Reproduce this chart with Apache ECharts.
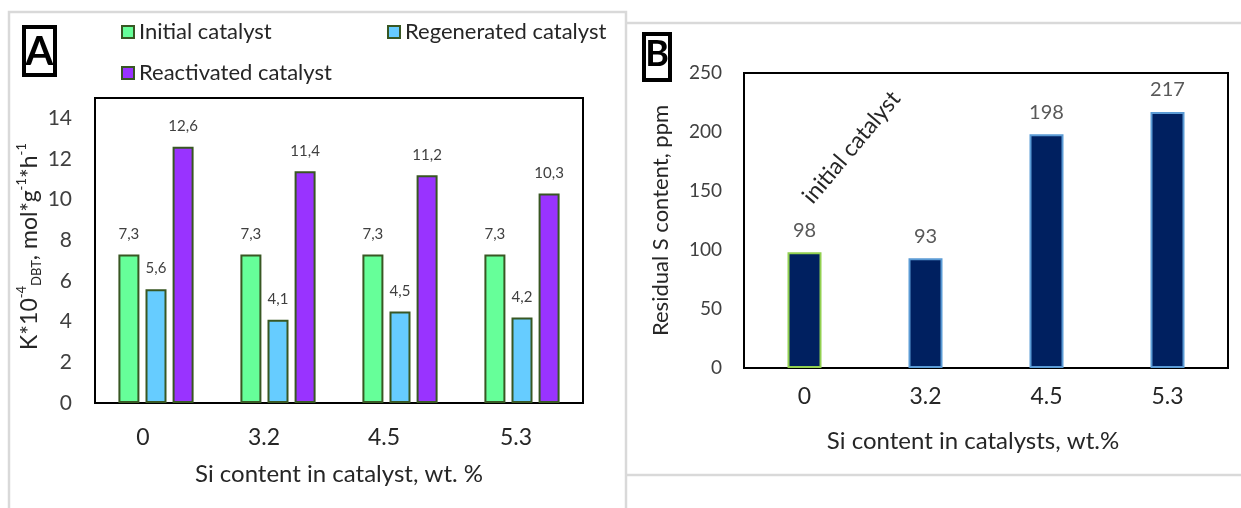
<!DOCTYPE html>
<html><head><meta charset="utf-8">
<script src="https://cdn.jsdelivr.net/npm/echarts@6/dist/echarts.min.js"></script>
<style>html,body{margin:0;padding:0;background:#fff}#c{width:1241px;height:508px}</style>
</head><body><div id="c"></div>
<script>
const categoriesA = ['0', '3.2', '4.5', '5.3'];
const initialCatalyst = [7.3, 7.3, 7.3, 7.3];
const regeneratedCatalyst = [5.6, 4.1, 4.5, 4.2];
const reactivatedCatalyst = [12.6, 11.4, 11.2, 10.3];
const yTicksA = [0, 2, 4, 6, 8, 10, 12, 14];
const categoriesB = ['0', '3.2', '4.5', '5.3'];
const residualS = [98, 93, 198, 217];
const yTicksB = [0, 50, 100, 150, 200, 250];

const FF = 'Lato';
const labelShiftA = [-13, -14, -16, -6];
const richShift = {};
labelShiftA.forEach((s, i) => { richShift['s' + i] = { fontSize: 23, fontFamily: FF, color: '#262626', padding: [0, -2 * s, 0, 0] }; });

const comma = p => String(p.value).replace('.', ',');
const barBorder = '#385723';
function barA(name, data, color) {
  return {
    type: 'bar', name, data, xAxisIndex: 0, yAxisIndex: 0,
    barWidth: 21, barGap: '29%',
    itemStyle: { color, borderColor: barBorder, borderWidth: 2 },
    label: { show: true, position: 'top', distance: 13, formatter: comma, color: '#404040', fontSize: 15, fontFamily: FF }
  };
}
const legendCommon = { icon: 'rect', itemWidth: 12, itemHeight: 12, padding: 0, textStyle: { fontSize: 22, color: '#262626', fontFamily: FF } };
const frame = { stroke: '#d9d9d9', lineWidth: 2.5, fill: null };
const rot = 50 * Math.PI / 180;
const annShift = 47;

const option = {
  animation: false,
  backgroundColor: '#fff',
  textStyle: { fontFamily: FF },
  grid: [
    { left: 95, top: 98, width: 488, height: 305, show: true, borderColor: '#000', borderWidth: 2 },
    { left: 744, top: 73, width: 484, height: 295, show: true, borderColor: '#000', borderWidth: 2 }
  ],
  legend: [
    Object.assign({ data: ['Initial catalyst'], left: 121, top: 21 }, legendCommon),
    Object.assign({ data: ['Regenerated catalyst'], left: 387, top: 21 }, legendCommon),
    Object.assign({ data: ['Reactivated catalyst'], left: 121, top: 62 }, legendCommon)
  ],
  xAxis: [
    {
      gridIndex: 0, type: 'category', data: categoriesA,
      axisLine: { show: false }, axisTick: { show: false }, splitLine: { show: false },
      axisLabel: { margin: 23, formatter: (v, i) => '{s' + i + '|' + v + '}', rich: richShift },
      name: 'Si content in catalyst, wt. %', nameLocation: 'middle', nameGap: 59,
      nameTextStyle: { fontSize: 24, color: '#262626', fontFamily: FF }
    },
    {
      gridIndex: 1, type: 'category', data: categoriesB,
      axisLine: { show: false }, axisTick: { show: false }, splitLine: { show: false },
      axisLabel: { margin: 17, fontSize: 23, color: '#262626', fontFamily: FF },
      name: 'Si content in catalysts, wt.%', nameLocation: 'middle', nameGap: 61,
      nameTextStyle: { fontSize: 24, color: '#262626', fontFamily: FF, padding: [0, 26, 0, 0] }
    }
  ],
  yAxis: [
    {
      gridIndex: 0, type: 'value', min: 0, max: 15, interval: 2,
      axisLine: { show: false }, axisTick: { show: false }, splitLine: { show: false },
      axisLabel: { margin: 23, fontSize: 21, color: '#404040', fontFamily: FF, formatter: v => yTicksA.includes(v) ? String(v) : '' },
      name: '{m|K*10}{sup|-4}{sub|DBT}{m|, mol*g}{sup|-1}{m|*h}{sup|-1}',
      nameLocation: 'middle', nameGap: 50,
      nameTextStyle: {
        fontSize: 23, color: '#262626', fontFamily: FF, padding: [0, 0, 0, 8],
        rich: {
          m: { fontSize: 23, lineHeight: 28, fontFamily: FF, color: '#262626' },
          sup: { fontSize: 13, lineHeight: 14, verticalAlign: 'top', fontFamily: FF, color: '#262626' },
          sub: { fontSize: 13, lineHeight: 14, verticalAlign: 'bottom', fontFamily: FF, color: '#262626' }
        }
      }
    },
    {
      gridIndex: 1, type: 'value', min: 0, max: 250, interval: 50,
      axisLine: { show: false }, axisTick: { show: false }, splitLine: { show: false },
      axisLabel: { margin: 22, fontSize: 19, color: '#404040', fontFamily: FF, formatter: v => yTicksB.includes(v) ? String(v) : '' },
      name: 'Residual S content, ppm', nameLocation: 'middle', nameGap: 72,
      nameTextStyle: { fontSize: 22, color: '#262626', fontFamily: FF }
    }
  ],
  series: [
    barA('Initial catalyst', initialCatalyst, '#66FF99'),
    barA('Regenerated catalyst', regeneratedCatalyst, '#66CCFF'),
    barA('Reactivated catalyst', reactivatedCatalyst, '#9933FF'),
    {
      type: 'bar', name: 'Residual S', xAxisIndex: 1, yAxisIndex: 1, barWidth: 34,
      data: residualS.map((v, i) => ({ value: v, itemStyle: { borderColor: i === 0 ? '#92D050' : '#5B9BD5' } })),
      itemStyle: { color: '#002060', borderWidth: 2 },
      label: { show: true, position: 'top', distance: 12, color: '#595959', fontSize: 20, fontFamily: FF },
      markPoint: {
        symbol: 'rect', symbolSize: 0, silent: true,
        label: {
          show: true, formatter: 'initial catalyst', rotate: 50,
          offset: [annShift * Math.cos(rot), annShift * Math.sin(rot)],
          fontSize: 23, color: '#262626', fontFamily: FF
        },
        data: [{ coord: [0, 187] }]
      }
    }
  ],
  graphic: [
    { type: 'polyline', silent: true, shape: { points: [[9, 508], [9, 12], [626, 12], [626, 508]] }, style: frame },
    { type: 'line', silent: true, shape: { x1: 627, y1: 23, x2: 1241, y2: 23 }, style: frame },
    { type: 'line', silent: true, shape: { x1: 627, y1: 475, x2: 1241, y2: 475 }, style: frame },
    { type: 'rect', silent: true, shape: { x: 24, y: 27, width: 31, height: 48 }, style: { stroke: '#000', lineWidth: 4, fill: '#fff' } },
    { type: 'text', silent: true, style: { text: 'A', x: 39.5, y: 52, align: 'center', verticalAlign: 'middle', font: 'bold 40px Lato', fill: '#000' } },
    { type: 'rect', silent: true, shape: { x: 644, y: 34, width: 26, height: 46 }, style: { stroke: '#000', lineWidth: 4, fill: '#fff' } },
    { type: 'text', silent: true, style: { text: 'B', x: 657, y: 54, align: 'center', verticalAlign: 'middle', font: 'bold 36px Lato', fill: '#000' } }
  ]
};
echarts.init(document.getElementById('c')).setOption(option);
</script></body></html>
